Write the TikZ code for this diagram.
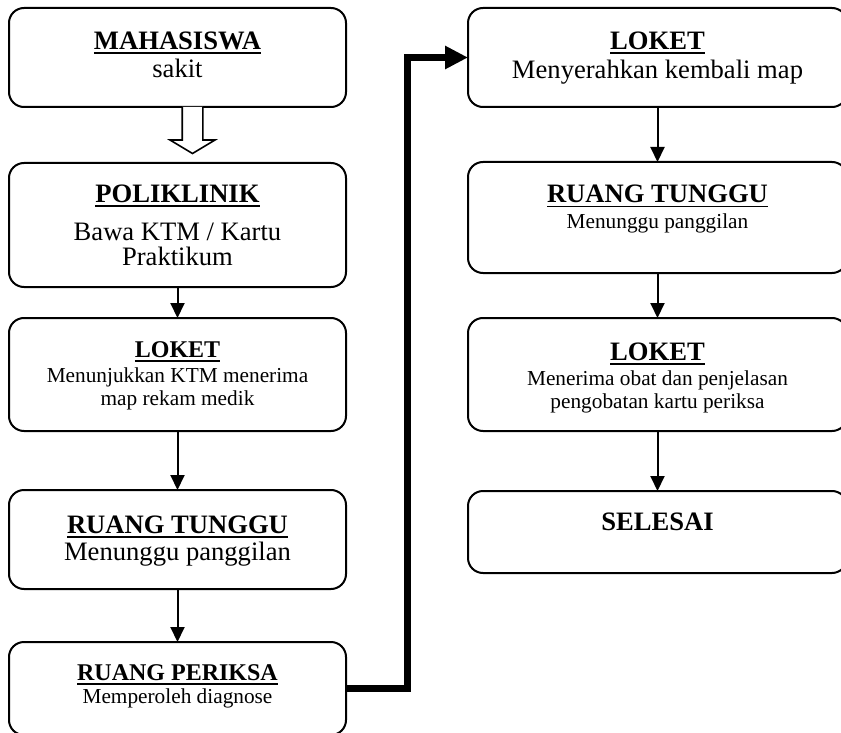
\documentclass[tikz,border=0pt]{standalone}
\usepackage{fontspec}
\setmainfont{Liberation Serif}
\usetikzlibrary{arrows.meta}

% bold heading with a solid rule under it
\newsavebox\hdbox
\newcommand\hdul[1]{\sbox\hdbox{\bfseries #1}\rlap{\rule[-4.5pt]{\wd\hdbox}{2pt}}\usebox\hdbox}

\tikzset{
  stepbox/.style={draw, line width=2pt, rounded corners=15pt, outer sep=0pt, anchor=north west},
  big/.style={font=\fontsize{26.6}{28}\selectfont, anchor=base, inner sep=0pt},
  mid/.style={font=\fontsize{24}{26}\selectfont, anchor=base, inner sep=0pt},
  small/.style={font=\fontsize{21.3}{23}\selectfont, anchor=base, inner sep=0pt},
  flow/.style={line width=2pt, -{Triangle[width=14pt,length=15pt]}},
  jump/.style={line width=7pt, line join=miter, -{Triangle[width=22pt,length=23pt]}},
  hollow/.style={draw, line width=1.6pt, line join=miter, fill=white},
}

\begin{document}
\begin{tikzpicture}[x=1pt, y=-1pt]
  \fill[white] (0,0) rectangle (841,733);
  \useasboundingbox (0,0) rectangle (841,733);

  % left column
  \node[stepbox, minimum width=337pt, minimum height=99pt]  (b1) at (9,8) {};
  \node[stepbox, minimum width=337pt, minimum height=124pt] (b2) at (9,163) {};
  \node[stepbox, minimum width=337pt, minimum height=113pt] (b3) at (9,318) {};
  \node[stepbox, minimum width=337pt, minimum height=99pt]  (b4) at (9,490) {};
  \node[stepbox, minimum width=337pt, minimum height=93pt]  (b5) at (9,642) {};

  % right column
  \node[stepbox, minimum width=379pt, minimum height=99pt]  (r1) at (468,8) {};
  \node[stepbox, minimum width=379pt, minimum height=111pt] (r2) at (468,162) {};
  \node[stepbox, minimum width=379pt, minimum height=113pt] (r3) at (468,318) {};
  \node[stepbox, minimum width=379pt, minimum height=82pt]  (r4) at (468,491) {};

  % texts, left
  \node[big]   (b1h) at (177.5,50)  {\hdul{MAHASISWA}};
  \node[big]   (b1s) at (177.5,78)  {sakit};
  \node[big]   (b2h) at (177.5,202) {\hdul{POLIKLINIK}};
  \node[big]   (b2s) at (177.5,240) {Bawa KTM / Kartu};
  \node[big]   (b2t) at (177.5,265) {Praktikum};
  \node[mid]   (b3h) at (177.5,357) {\hdul{LOKET}};
  \node[small] (b3s) at (177.5,382) {Menunjukkan KTM menerima};
  \node[small] (b3t) at (177.5,405) {map rekam medik};
  \node[big]   (b4h) at (177.5,533) {\hdul{RUANG TUNGGU}};
  \node[big]   (b4s) at (177.5,560) {Menunggu panggilan};
  \node[mid]   (b5h) at (177.5,680) {\hdul{RUANG PERIKSA}};
  \node[small] (b5s) at (177.5,703) {Memperoleh diagnose};

  % texts, right
  \node[big]   (r1h) at (657.5,50)  {\hdul{LOKET}};
  \node[big]   (r1s) at (657.5,79)  {Menyerahkan kembali map};
  \node[big]   (r2h) at (657.5,203) {\hdul{RUANG TUNGGU}};
  \node[small] (r2s) at (657.5,228) {Menunggu panggilan};
  \node[big]   (r3h) at (657.5,360) {\hdul{LOKET}};
  \node[small] (r3s) at (657.5,385) {Menerima obat dan penjelasan};
  \node[small] (r3t) at (657.5,408) {pengobatan kartu periksa};
  \node[big]   (r4h) at (657.5,530) {\textbf{SELESAI}};

  % hollow block arrow below the first box
  \draw[hollow, shift={(b1.south)}]
    (4.7,0) -- (4.7,33) -- (-7.5,33) -- (15,46.5) -- (37.5,33) -- (25.3,33) -- (25.3,0);

  % flow arrows
  \draw[flow] (b2.south) -- (b3.north);
  \draw[flow] (b3.south) -- (b4.north);
  \draw[flow] (b4.south) -- (b5.north);
  \draw[flow] (r1.south) -- (r2.north);
  \draw[flow] (r2.south) -- (r3.north);
  \draw[flow] (r3.south) -- (r4.north);

  % thick jump from the examination room to the counter
  \draw[jump] (b5.east) -- ++(61,0) |- (r1.west);
\end{tikzpicture}
\end{document}
